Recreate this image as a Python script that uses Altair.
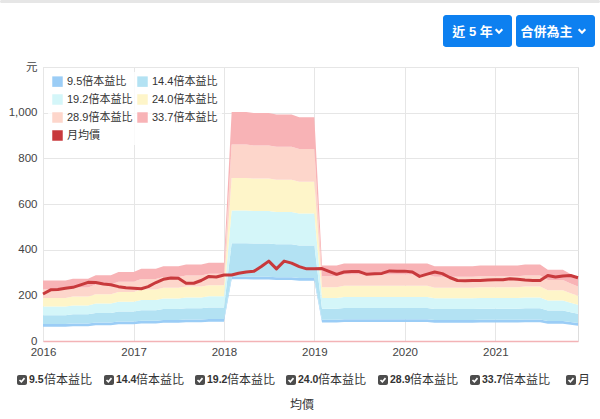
import altair as alt
import pandas as pd

# ---------------- data ----------------
months = [f"{y}-{m:02d}-01" for y in range(2016, 2022) for m in range(1, 13)]

# trailing EPS per month (band boundaries = EPS x multiple)
eps = [
    7.86, 7.86, 7.86, 7.86, 8.10, 8.10, 8.10, 8.55, 8.55, 8.55, 8.96, 8.96,        # 2016
    8.96, 9.38, 9.38, 9.38, 9.70, 9.70, 9.70, 9.94, 9.94, 9.94, 10.18, 10.18,      # 2017
    10.18, 29.76, 29.76, 29.76, 29.64, 29.64, 29.64, 29.44, 29.44, 29.44, 29.08, 29.08,  # 2018
    29.08, 9.82, 9.82, 9.82, 10.06, 10.06, 10.06, 10.06, 10.06, 10.06, 10.06, 10.06,     # 2019
    10.06, 10.06, 10.06, 10.06, 9.73, 9.73, 9.73, 9.73, 9.73, 9.73, 9.82, 9.82,   # 2020
    9.82, 9.82, 9.82, 9.82, 9.94, 9.94, 9.94, 9.26, 9.26, 9.26, 8.72, 8.25,       # 2021
]

price = [
    206, 224, 226, 231, 235, 246, 257, 256, 250, 246, 238, 233,
    231, 229, 238, 256, 270, 276, 275, 253, 253, 265, 283, 280,
    289, 289, 297, 302, 305, 326, 350, 316, 350, 341, 326, 316,
    316, 317, 305, 292, 302, 304, 304, 292, 294, 296, 307, 305,
    306, 302, 283, 293, 302, 295, 278, 265, 264, 265, 265, 267,
    268, 268, 273, 270, 267, 265, 265, 287, 280, 285, 287, 277,
]

multiples = [9.5, 14.4, 19.2, 24.0, 28.9, 33.7]
mult_labels = ["9.5", "14.4", "19.2", "24.0", "28.9", "33.7"]
suffix = "倍本益比"
series_names = [m + suffix for m in mult_labels]
price_name = "月均價"
series_colors = ["#9bcdf6", "#b3e2f3", "#d4f6f9", "#fef5c9", "#fdd6cb", "#f8b3b6", "#c8393c"]
price_color = "#c8393c"
STRIP = 12  # thickness of the lowest (9.5x) strip in value units

y_ticks = [0, 200, 400, 600, 800, 1000, 1200]
x_years = [2016, 2017, 2018, 2019, 2020, 2021]

FONT = "Liberation Sans, Arial, Noto Sans CJK TC, sans-serif"

# ---------------- tables ----------------
rows = []
for i, d in enumerate(months):
    for k, m in enumerate(multiples):
        hi = m * eps[i]
        lo = hi - STRIP if k == 0 else multiples[k - 1] * eps[i]
        rows.append({"date": d, "series": series_names[k], "lo": lo, "hi": hi})
bands = pd.DataFrame(rows)
prices = pd.DataFrame({"date": months, "price": price})

OX, OY = 43, 67  # plot origin in the page

x_enc = alt.X(
    "date:T",
    scale=alt.Scale(
        type="utc",
        domain=[alt.DateTime(year=2016, month=1, date=1, utc=True),
                alt.DateTime(year=2021, month=12, date=1, utc=True)],
    ),
    axis=alt.Axis(
        title=None, format="%Y", formatType="utc",
        values=[alt.DateTime(year=y, month=1, date=1, utc=True) for y in x_years],
        grid=True, gridColor="#e6e6e6", ticks=False, domainColor="#f3b3b6",
        domainWidth=1.5, labelPadding=5, labelFontSize=11.5, labelColor="#444",
        labelFont=FONT, labelFlush=False,
    ),
)

y_scale = alt.Scale(domain=[0, 1200], nice=False, zero=True)
y_axis = alt.Axis(
    title=None, values=y_ticks,
    labelExpr="datum.value == 1200 ? '元' : format(datum.value, ',')",
    domain=False, ticks=False, gridColor="#e6e6e6", labelPadding=6,
    labelFontSize=11.5, labelColor="#444", labelFont=FONT,
)

area = alt.Chart(bands).mark_area(interpolate="linear", opacity=1).encode(
    x=x_enc,
    y=alt.Y("lo:Q", stack=None, scale=y_scale, axis=y_axis),
    y2="hi:Q",
    color=alt.Color(
        "series:N",
        scale=alt.Scale(domain=series_names + [price_name], range=series_colors),
        legend=alt.Legend(
            title=None, orient="none", legendX=5, legendY=5, columns=2,
            direction="horizontal",
            symbolType="square", symbolSize=110, symbolStrokeWidth=0,
            labelFontSize=11, labelColor="#333", labelFont=FONT,
            rowPadding=6, columnPadding=4, labelOffset=4, padding=4,
            fillColor="rgba(255,255,255,0.8)",
        ),
    ),
)

line = alt.Chart(prices).mark_line(color=price_color, strokeWidth=3, strokeJoin="round").encode(
    x=alt.X("date:T"),
    y=alt.Y("price:Q"),
)

# ---------------- page decorations (buttons, checkboxes) ----------------
deco_rects = pd.DataFrame({
    "x0": [-OX, 443 - OX, 516 - OX],
    "x1": [600 - OX, 512 - OX, 595 - OX],
    "y0": [-OY, 15 - OY, 15 - OY],
    "y1": [3 - OY, 47 - OY, 47 - OY],
    "c": ["#e6e6e6", "#0d80f0", "#0d80f0"],
})
rects = alt.Chart(deco_rects).mark_rect(cornerRadius=3).encode(
    x=alt.X("x0:Q", scale=None, axis=None), x2="x1:Q",
    y=alt.Y("y0:Q", scale=None, axis=None), y2="y1:Q",
    fill=alt.Fill("c:N", scale=None),
)

btn_text = pd.DataFrame({
    "t": ["近 5 年", "合併為主"],
    "x": [472.5 - OX, 546.5 - OX],
    "y": [31.5 - OY, 31.5 - OY],
})
btn_labels = alt.Chart(btn_text).mark_text(
    color="white", fontSize=13, fontWeight="bold", font=FONT, baseline="middle", align="center"
).encode(x=alt.X("x:Q", scale=None, axis=None), y=alt.Y("y:Q", scale=None, axis=None), text="t:N")

chev = pd.DataFrame({"x": [499 - OX, 582 - OX], "y": [31 - OY, 31 - OY]})
chevrons = alt.Chart(chev).mark_point(
    shape="M-0.7,-0.35L0,0.35L0.7,-0.35", filled=False, stroke="white", strokeWidth=2.2,
    size=90, opacity=1,
).encode(x=alt.X("x:Q", scale=None, axis=None), y=alt.Y("y:Q", scale=None, axis=None))

cb_left = [17, 104, 195, 286, 378, 470, 566]
ROWY = 380
cb = pd.DataFrame({
    "x0": [l - OX for l in cb_left],
    "x1": [l + 10 - OX for l in cb_left],
    "y0": [ROWY - 5 - OY] * 7,
    "y1": [ROWY + 5 - OY] * 7,
    "cx": [l + 5 - OX for l in cb_left],
    "cy": [ROWY - OY] * 7,
})
cb_boxes = alt.Chart(cb).mark_rect(cornerRadius=2, fill="#4d4d4d").encode(
    x=alt.X("x0:Q", scale=None, axis=None), x2="x1:Q",
    y=alt.Y("y0:Q", scale=None, axis=None), y2="y1:Q",
)
cb_checks = alt.Chart(cb).mark_point(
    shape="M-0.6,0L-0.15,0.45L0.6,-0.45", filled=False, stroke="white", strokeWidth=1.6, size=70,
    opacity=1,
).encode(x=alt.X("cx:Q", scale=None, axis=None), y=alt.Y("cy:Q", scale=None, axis=None))

num_w = [15 if len(t) == 3 else 20 for t in mult_labels]
nums = pd.DataFrame({
    "t": mult_labels,
    "x": [cb_left[i] + 12 - OX for i in range(6)],
    "y": [ROWY - OY] * 6,
})
num_text = alt.Chart(nums).mark_text(
    fontSize=10.5, fontWeight="bold", font=FONT, color="#333", align="left", baseline="middle"
).encode(x=alt.X("x:Q", scale=None, axis=None), y=alt.Y("y:Q", scale=None, axis=None), text="t:N")

sufs = pd.DataFrame({
    "t": [suffix] * 6 + ["月", "均價"],
    "x": [cb_left[i] + 12 + num_w[i] - OX for i in range(6)] + [cb_left[6] + 12 - OX, 302 - OX],
    "y": [ROWY - OY] * 7 + [405 - OY],
    "a": ["left"] * 7 + ["center"],
})
suf_text = alt.Chart(sufs[sufs.a == "left"]).mark_text(
    fontSize=12, font=FONT, color="#333", align="left", baseline="middle"
).encode(x=alt.X("x:Q", scale=None, axis=None), y=alt.Y("y:Q", scale=None, axis=None), text="t:N")
suf_text2 = alt.Chart(sufs[sufs.a == "center"]).mark_text(
    fontSize=12, font=FONT, color="#333", align="center", baseline="middle"
).encode(x=alt.X("x:Q", scale=None, axis=None), y=alt.Y("y:Q", scale=None, axis=None), text="t:N")

chart = alt.layer(
    area, line, rects, btn_labels, chevrons, cb_boxes, cb_checks, num_text, suf_text, suf_text2
).properties(
    width=535, height=274,
    padding={"left": OX, "top": OY, "right": 22, "bottom": 78},
    autosize=alt.AutoSizeParams(type="none"),
).configure_view(stroke=None).configure(background="white")

chart.save("out.html", embed_options={"renderer": "svg", "actions": False})
